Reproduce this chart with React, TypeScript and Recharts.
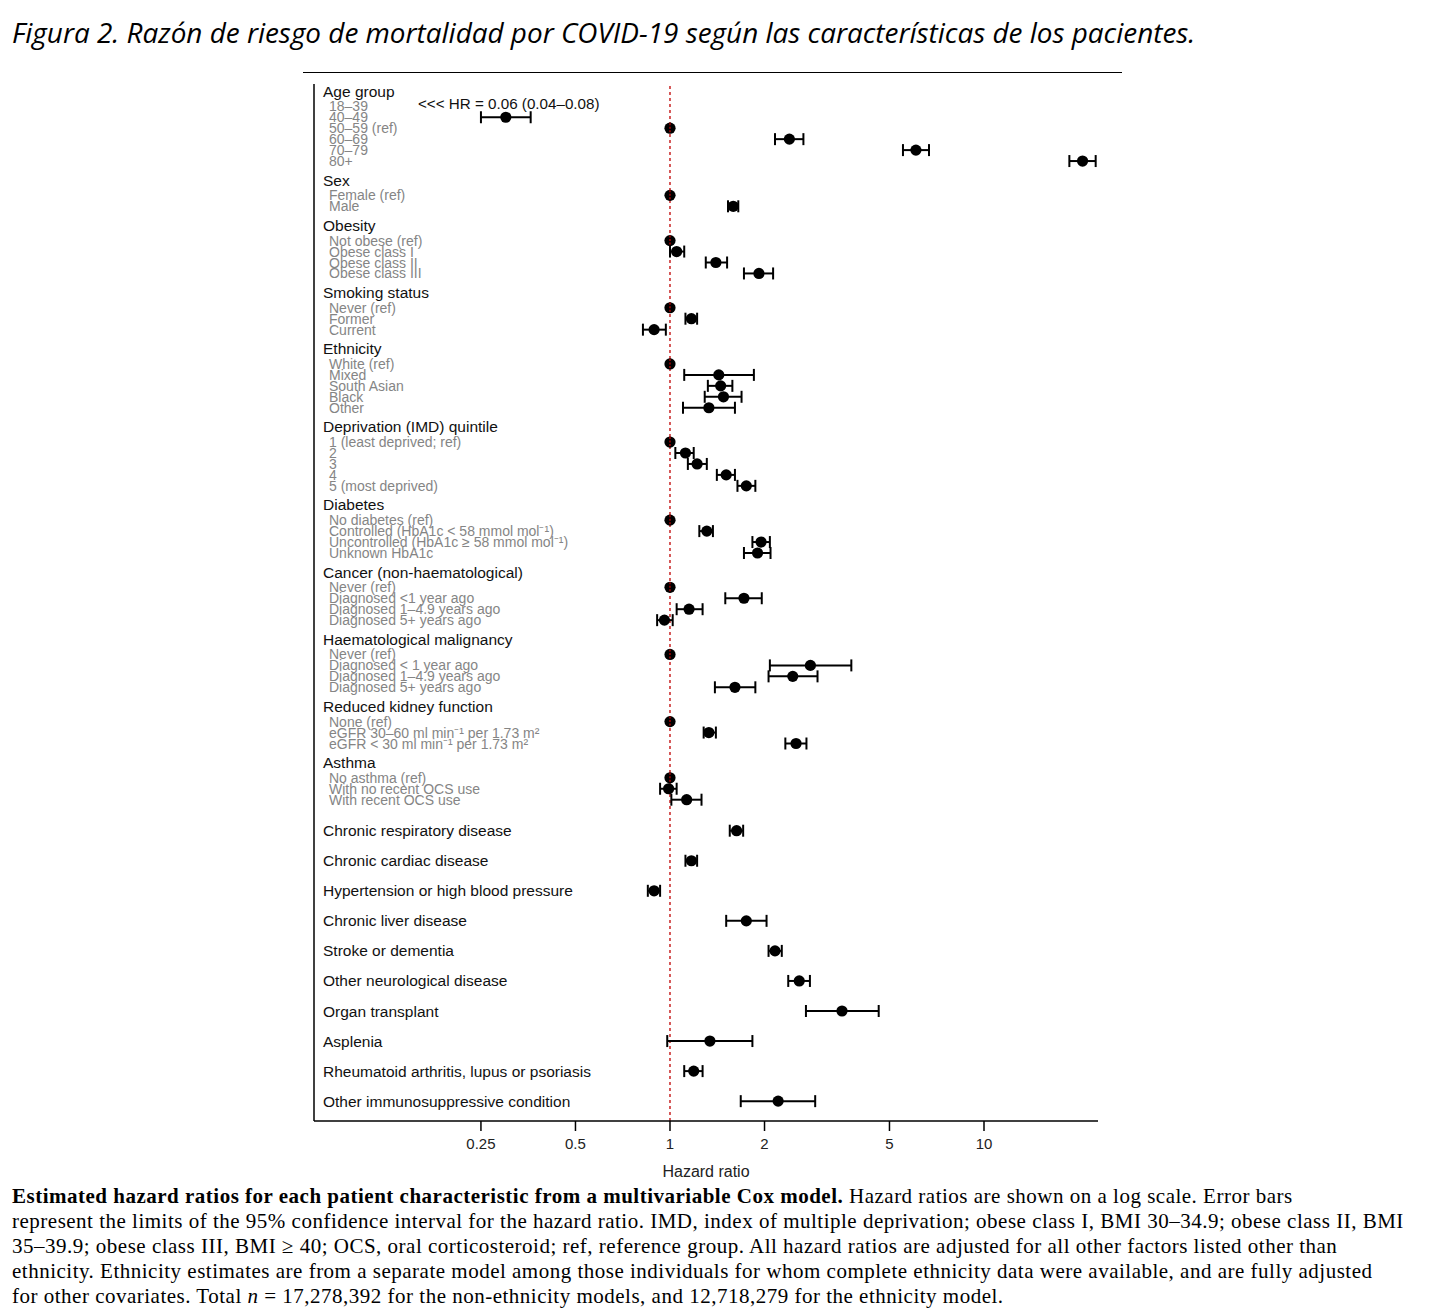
import React from "react";
import {
  ScatterChart,
  Scatter,
  XAxis,
  YAxis,
  ErrorBar,
  ReferenceLine,
} from "recharts";

// grouped characteristics (label rows under a bold header)
const groupTitles = [
  "Age group",
  "Sex",
  "Obesity",
  "Smoking status",
  "Ethnicity",
  "Deprivation (IMD) quintile",
  "Diabetes",
  "Cancer (non-haematological)",
  "Haematological malignancy",
  "Reduced kidney function",
  "Asthma",
];

const groupItems = [
  ["18–39", "40–49", "50–59 (ref)", "60–69", "70–79", "80+"],
  ["Female (ref)", "Male"],
  ["Not obese (ref)", "Obese class I", "Obese class II", "Obese class III"],
  ["Never (ref)", "Former", "Current"],
  ["White (ref)", "Mixed", "South Asian", "Black", "Other"],
  ["1 (least deprived; ref)", "2", "3", "4", "5 (most deprived)"],
  [
    "No diabetes (ref)",
    "Controlled (HbA1c < 58 mmol mol⁻¹)",
    "Uncontrolled (HbA1c ≥ 58 mmol mol⁻¹)",
    "Unknown HbA1c",
  ],
  ["Never (ref)", "Diagnosed <1 year ago", "Diagnosed 1–4.9 years ago", "Diagnosed 5+ years ago"],
  ["Never (ref)", "Diagnosed < 1 year ago", "Diagnosed 1–4.9 years ago", "Diagnosed 5+ years ago"],
  ["None (ref)", "eGFR 30–60 ml min⁻¹ per 1.73 m²", "eGFR < 30  ml min⁻¹ per 1.73 m²"],
  ["No asthma (ref)", "With no recent OCS use", "With recent OCS use"],
];

const groupHr = [
  [0.06, 0.3, 1, 2.4, 6.07, 20.6],
  [1, 1.59],
  [1, 1.05, 1.4, 1.92],
  [1, 1.17, 0.89],
  [1, 1.43, 1.45, 1.48, 1.33],
  [1, 1.12, 1.22, 1.51, 1.75],
  [1, 1.31, 1.95, 1.9],
  [1, 1.72, 1.15, 0.96],
  [1, 2.8, 2.46, 1.61],
  [1, 1.33, 2.52],
  [1, 0.99, 1.13],
];

const groupLow = [
  [0.04, 0.25, null, 2.16, 5.52, 18.7],
  [null, 1.53],
  [null, 1.0, 1.3, 1.72],
  [null, 1.12, 0.82],
  [null, 1.11, 1.32, 1.29, 1.1],
  [null, 1.04, 1.14, 1.41, 1.64],
  [null, 1.24, 1.83, 1.72],
  [null, 1.5, 1.05, 0.91],
  [null, 2.08, 2.06, 1.39],
  [null, 1.28, 2.33],
  [null, 0.93, 1.01],
];

const groupHigh = [
  [0.08, 0.36, null, 2.66, 6.68, 22.68],
  [null, 1.65],
  [null, 1.11, 1.52, 2.13],
  [null, 1.22, 0.97],
  [null, 1.85, 1.58, 1.69, 1.61],
  [null, 1.19, 1.31, 1.61, 1.87],
  [null, 1.37, 2.08, 2.09],
  [null, 1.96, 1.27, 1.02],
  [null, 3.78, 2.95, 1.87],
  [null, 1.4, 2.72],
  [null, 1.05, 1.26],
];

// single-row characteristics
const singleLabels = [
  "Chronic respiratory disease",
  "Chronic cardiac disease",
  "Hypertension or high blood pressure",
  "Chronic liver disease",
  "Stroke or dementia",
  "Other neurological disease",
  "Organ transplant",
  "Asplenia",
  "Rheumatoid arthritis, lupus or psoriasis",
  "Other immunosuppressive condition",
];
const singleHr = [1.63, 1.17, 0.89, 1.75, 2.16, 2.58, 3.53, 1.34, 1.19, 2.21];
const singleLow = [1.55, 1.12, 0.85, 1.51, 2.06, 2.38, 2.71, 0.98, 1.11, 1.68];
const singleHigh = [1.71, 1.22, 0.93, 2.03, 2.27, 2.79, 4.62, 1.83, 1.27, 2.9];

const xTicks = [0.25, 0.5, 1, 2, 5, 10];
const X_MIN = 0.0735;
const X_MAX = 23.07;

// vertical layout (px units of the plot)
const PLOT_H = 1037;
const TOP = 7;
const HEAD_GAP = 15.3;
const ITEM_GAP = 10.95;
const GROUP_GAP = 19;
const FIRST_SINGLE_GAP = 31;
const SINGLE_GAP = 30.05;

type Row = {
  label: string;
  kind: "head" | "item" | "single";
  pos: number;
  hr: number | null;
  lo: number | null;
  hi: number | null;
};

const rows: Row[] = [];
let p = TOP;
groupTitles.forEach((title, g) => {
  if (g > 0) p += GROUP_GAP;
  rows.push({ label: title, kind: "head", pos: p, hr: null, lo: null, hi: null });
  groupItems[g].forEach((label, i) => {
    p += i === 0 ? HEAD_GAP : ITEM_GAP;
    rows.push({ label, kind: "item", pos: p, hr: groupHr[g][i], lo: groupLow[g][i], hi: groupHigh[g][i] });
  });
});
singleLabels.forEach((label, i) => {
  p += i === 0 ? FIRST_SINGLE_GAP : SINGLE_GAP;
  rows.push({ label, kind: "single", pos: p, hr: singleHr[i], lo: singleLow[i], hi: singleHigh[i] });
});

const inRange = rows.filter((r) => r.hr != null && r.hr >= X_MIN);
const estimates = inRange
  .filter((r) => r.lo != null)
  .map((r) => ({ hr: r.hr, pos: r.pos, err: [r.hr! - r.lo!, r.hi! - r.hr!] }));
const refs = inRange.filter((r) => r.lo == null).map((r) => ({ hr: r.hr, pos: r.pos }));

const FONT = "'Liberation Sans', Arial, sans-serif";
const RED = "#c00000";

function RowTick(props: any) {
  const { y, payload } = props;
  const row = rows.find((r) => Math.abs(r.pos - payload.value) < 0.001);
  if (!row) return null;
  const isItem = row.kind === "item";
  const offScale = row.hr != null && row.hr < X_MIN;
  return (
    <g>
      <text
        x={isItem ? 29 : 23}
        y={y}
        dominantBaseline="central"
        fontFamily={FONT}
        fontSize={isItem ? 14 : 15.5}
        fill={isItem ? "#858585" : "#111"}
      >
        {row.label}
      </text>
      {offScale && (
        <text x={118} y={y - 3} dominantBaseline="central" fontFamily={FONT} fontSize={15.2} fill="#111">
          {`<<< HR = ${row.hr!.toFixed(2)} (${row.lo!.toFixed(2)}–${row.hi!.toFixed(2)})`}
        </text>
      )}
    </g>
  );
}

const Dot = (props: any) => <circle cx={props.cx} cy={props.cy} r={5.6} fill="#000" />;

// reference-group dot: the dotted null line shows through it
const RefDot = (props: any) => (
  <g>
    <circle cx={props.cx} cy={props.cy} r={5.6} fill="#000" />
    <line x1={props.cx} x2={props.cx} y1={props.cy - 5} y2={props.cy + 5} stroke={RED} strokeWidth={1.3} strokeDasharray="2 1.5" />
  </g>
);

export default function App() {
  return (
    <div style={{ position: "absolute", left: 0, top: 0, width: 1442, height: 1316, background: "#fff" }}>
      <div
        style={{
          position: "absolute",
          left: 12,
          top: 15,
          fontFamily: "'Open Sans', sans-serif",
          fontStyle: "italic",
          fontSize: 27.9,
          lineHeight: "34px",
          color: "#000",
          whiteSpace: "nowrap",
        }}
      >
        Figura 2. Razón de riesgo de mortalidad por COVID-19 según las características de los pacientes.
      </div>
      <div style={{ position: "absolute", left: 303, top: 72, width: 819, height: 1, background: "#000" }} />

      <div style={{ position: "absolute", left: 300, top: 70 }}>
        <ScatterChart width={830} height={1120} margin={{ top: 14, right: 32, bottom: 9, left: 13 }}>
          <XAxis
            type="number"
            dataKey="hr"
            scale="log"
            domain={[X_MIN, X_MAX]}
            allowDataOverflow
            ticks={xTicks}
            height={60}
            tickSize={10}
            tickMargin={7}
            stroke="#000"
            strokeWidth={1.5}
            tick={{ fontSize: 15, fill: "#222", fontFamily: FONT }}
            label={{ value: "Hazard ratio", position: "insideBottom", offset: 4, fontSize: 16, fill: "#222", fontFamily: FONT }}
          />
          <YAxis
            type="number"
            dataKey="pos"
            domain={[0, PLOT_H]}
            reversed
            allowDataOverflow
            width={1}
            ticks={rows.map((r) => r.pos)}
            interval={0}
            tickLine={false}
            stroke="#000"
            strokeWidth={1.5}
            tick={<RowTick />}
          />
          <ReferenceLine x={1} stroke={RED} strokeDasharray="3 3" strokeWidth={1.3} />
          <Scatter data={estimates} shape={<Dot />} isAnimationActive={false}>
            <ErrorBar dataKey="err" direction="x" width={6} stroke="#000" strokeWidth={2} />
          </Scatter>
          <Scatter data={refs} shape={<RefDot />} isAnimationActive={false} />
        </ScatterChart>
      </div>

      <div
        style={{
          position: "absolute",
          left: 12,
          top: 1184,
          fontFamily: "'Liberation Serif', 'DejaVu Serif', serif",
          fontSize: 21,
          letterSpacing: "0.5px",
          lineHeight: "25px",
          color: "#000",
          whiteSpace: "nowrap",
        }}
      >
        <div>
          <b>Estimated hazard ratios for each patient characteristic from a multivariable Cox model.</b> Hazard ratios
          are shown on a log scale. Error bars
        </div>
        <div>
          represent the limits of the 95% confidence interval for the hazard ratio. IMD, index of multiple deprivation;
          obese class I, BMI 30–34.9; obese class II, BMI
        </div>
        <div>
          35–39.9; obese class III, BMI ≥ 40; OCS, oral corticosteroid; ref, reference group. All hazard ratios are
          adjusted for all other factors listed other than
        </div>
        <div>
          ethnicity. Ethnicity estimates are from a separate model among those individuals for whom complete ethnicity
          data were available, and are fully adjusted
        </div>
        <div>
          for other covariates. Total <i>n</i> = 17,278,392 for the non-ethnicity models, and 12,718,279 for the
          ethnicity model.
        </div>
      </div>
    </div>
  );
}
